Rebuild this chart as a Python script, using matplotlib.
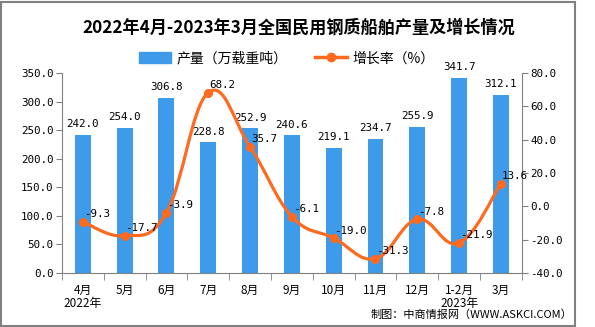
import numpy as np
import matplotlib
matplotlib.use("Agg")
import matplotlib.pyplot as plt
from matplotlib.path import Path
from matplotlib.patches import PathPatch, Rectangle
from matplotlib.lines import Line2D

plt.rcParams['font.family'] = ['Noto Sans CJK SC', 'DejaVu Sans']

months = ["4月\n2022年", "5月", "6月", "7月", "8月", "9月", "10月", "11月", "12月", "1-2月\n2023年", "3月"]
output = [242.0, 254.0, 306.8, 228.8, 252.9, 240.6, 219.1, 234.7, 255.9, 341.7, 312.1]
growth = [-9.3, -17.7, -3.9, 68.2, 35.7, -6.1, -19.0, -31.3, -7.8, -21.9, 13.6]

bar_color = "#3d9be9"
line_color = "#ff6a1f"
mono = ['DejaVu Sans Mono']

def smooth_path(xs, ys, t=0.2):
    # cubic bezier through the points (catmull-rom style tangents)
    verts = [(xs[0], ys[0])]
    codes = [Path.MOVETO]
    n = len(xs)
    for i in range(n - 1):
        x0, y0 = xs[max(i - 1, 0)], ys[max(i - 1, 0)]
        x1, y1 = xs[i], ys[i]
        x2, y2 = xs[i + 1], ys[i + 1]
        x3, y3 = xs[min(i + 2, n - 1)], ys[min(i + 2, n - 1)]
        c1 = (x1 + (x2 - x0) * t, y1 + (y2 - y0) * t)
        c2 = (x2 - (x3 - x1) * t, y2 - (y3 - y1) * t)
        verts += [c1, c2, (x2, y2)]
        codes += [Path.CURVE4] * 3
    return Path(verts, codes)

fig = plt.figure(figsize=(5.95, 3.27), dpi=100)
ax = fig.add_axes([0.104, 0.165, 0.773, 0.612])
ax2 = ax.twinx()

x = np.arange(len(months))
ax.bar(x, output, width=0.38, color=bar_color, zorder=2)
for xi, v in zip(x, output):
    ax.text(xi, v + 10, f"{v:.1f}", ha="center", va="bottom", fontsize=7.8, family=mono)

ax.set_xlim(-0.5, len(months) - 0.5)
ax.set_ylim(0, 350)
ax.set_yticks(np.arange(0, 351, 50))
ax.set_yticklabels([f"{v:.1f}" for v in np.arange(0, 351, 50)], family=mono, fontsize=7.8)
ax.set_xticks(x)
ax.set_xticklabels(months, fontsize=8.5, linespacing=1.0)
ax.set_xticks(np.arange(-0.5, len(months), 1), minor=True)
ax.tick_params(axis="x", which="major", length=0, pad=8)
ax.tick_params(axis="x", which="minor", length=5, color="#808080")
ax.tick_params(axis="y", length=4, color="#808080", pad=2)

ax2.set_ylim(-40, 80)
ax2.set_yticks(np.arange(-40, 81, 20))
ax2.set_yticklabels([f"{v:.1f}" for v in np.arange(-40, 81, 20)], family=mono, fontsize=7.8)
ax2.tick_params(axis="y", length=4, color="#808080", pad=2)

ax2.add_patch(PathPatch(smooth_path(x, growth), facecolor="none", edgecolor=line_color, lw=2.3, zorder=3))
ax2.plot(x, growth, "o", color=line_color, ms=5.5, zorder=4)
for xi, v in zip(x, growth):
    ax2.text(xi + 0.02, v + 1.5, f"{v:.1f}", ha="left", va="bottom", fontsize=7.8,
             family=mono, zorder=5)

for a in (ax, ax2):
    a.spines["top"].set_visible(False)
    for s in ["left", "right", "bottom"]:
        a.spines[s].set_color("#808080")
ax2.spines["left"].set_visible(False)
ax2.spines["bottom"].set_visible(False)
ax.spines["right"].set_visible(False)

fig.text(0.502, 0.914, "2022年4月-2023年3月全国民用钢质船舶产量及增长情况", ha="center", va="center",
         fontsize=12.3, fontweight="bold")

handles = [Rectangle((0, 0), 1, 1, color=bar_color),
           Line2D([], [], color=line_color, lw=2.5, marker="o", ms=6)]
fig.legend(handles, ["产量（万载重吨）", "增长率（%）"], loc="center", bbox_to_anchor=(0.482, 0.822),
           ncol=2, frameon=False, fontsize=10, handlelength=2.3, handleheight=0.8, columnspacing=2.0,
           handletextpad=0.4)

fig.text(0.962, 0.037, "制图：中商情报网（WWW.ASKCI.COM）", ha="right", va="center", fontsize=8)

fig.add_artist(Rectangle((0.002, 0.004), 0.964, 0.99, transform=fig.transFigure, fill=False,
                         edgecolor="#808080", lw=1.5))

fig.savefig("out.png", dpi=100)
